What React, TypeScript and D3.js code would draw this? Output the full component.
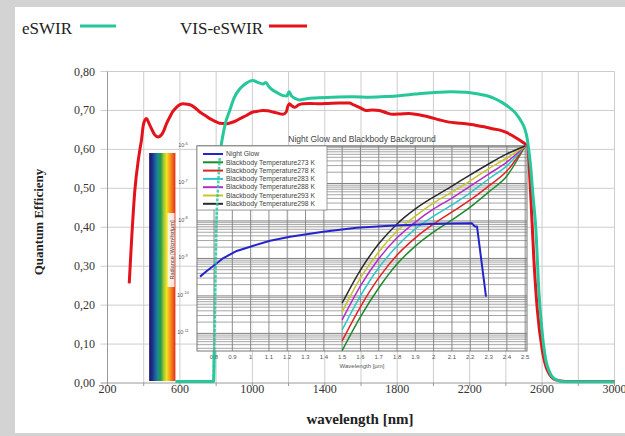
import React from "react";
import * as d3 from "d3";

// ---------- Main chart data (wavelength nm, quantum efficiency) ----------
const visESWIR: [number, number][] = [
  [320, 0.256], [333, 0.367], [351, 0.495], [370, 0.572], [379, 0.6], [388, 0.625], [397, 0.66], [407, 0.676],
  [416, 0.679], [428, 0.668], [443, 0.653], [460, 0.638], [480, 0.632], [495, 0.636], [507, 0.644], [525, 0.665],
  [544, 0.683], [562, 0.698], [581, 0.708], [600, 0.715], [618, 0.717], [640, 0.716], [664, 0.713], [688, 0.705],
  [710, 0.696], [740, 0.687], [765, 0.679], [795, 0.672], [820, 0.667], [857, 0.666], [885, 0.669], [912, 0.674],
  [940, 0.681], [967, 0.687], [1003, 0.696], [1030, 0.698], [1058, 0.7], [1085, 0.699], [1113, 0.696], [1140, 0.693],
  [1169, 0.69], [1187, 0.696], [1197, 0.712], [1205, 0.717], [1218, 0.712], [1233, 0.708], [1255, 0.714], [1279, 0.717],
  [1320, 0.718], [1371, 0.717], [1420, 0.718], [1480, 0.719], [1536, 0.719], [1560, 0.714], [1591, 0.708], [1628, 0.7],
  [1665, 0.701], [1701, 0.7], [1740, 0.694], [1775, 0.69], [1820, 0.691], [1866, 0.692], [1900, 0.69], [1938, 0.687],
  [1985, 0.682], [2031, 0.676], [2087, 0.67], [2130, 0.668], [2179, 0.666], [2220, 0.663], [2252, 0.66], [2290, 0.657],
  [2326, 0.653], [2362, 0.65], [2399, 0.644], [2430, 0.637], [2455, 0.63], [2491, 0.619], [2510, 0.612], [2524, 0.585],
  [2537, 0.486], [2555, 0.315], [2574, 0.187], [2601, 0.085], [2629, 0.033], [2675, 0.008], [2730, 0.004], [3000, 0.004],
];

const eSWIR: [number, number][] = [
  [575, 0.004], [786, 0.004], [790, 0.1], [795, 0.25], [801, 0.4], [810, 0.5], [820, 0.58], [835, 0.63], [850, 0.665],
  [875, 0.7], [900, 0.733], [930, 0.755], [960, 0.768], [990, 0.776], [1003, 0.777], [1030, 0.772], [1058, 0.768],
  [1075, 0.772], [1090, 0.762], [1110, 0.753], [1132, 0.747], [1170, 0.738], [1190, 0.737], [1203, 0.748], [1215, 0.738],
  [1240, 0.73], [1260, 0.727], [1300, 0.73], [1350, 0.732], [1444, 0.734], [1550, 0.735], [1650, 0.734], [1750, 0.736],
  [1811, 0.738], [1900, 0.742], [1970, 0.745], [2031, 0.747], [2100, 0.748], [2179, 0.747], [2250, 0.742], [2300, 0.737],
  [2340, 0.73], [2380, 0.72], [2418, 0.708], [2450, 0.695], [2482, 0.674], [2505, 0.652], [2519, 0.625], [2530, 0.585],
  [2537, 0.555], [2550, 0.48], [2565, 0.4], [2583, 0.23], [2601, 0.128], [2620, 0.06], [2640, 0.03], [2656, 0.016],
  [2690, 0.006], [2730, 0.003], [3000, 0.003],
];

const xTickLabels = [200, 600, 1000, 1400, 1800, 2200, 2600, 3000];
const xGrid = [200, 400, 600, 800, 1000, 1200, 1400, 1600, 1800, 2000, 2200, 2400, 2600, 2800, 3000];
const yTicks = [0, 0.1, 0.2, 0.3, 0.4, 0.5, 0.6, 0.7, 0.8];
const spectrumRange = [430, 575]; // nm span of the rainbow bar
const spectrumColors = ["#1b1660", "#1d2a8c", "#1b5fa0", "#1a8c8a", "#2a9a48", "#9cc83a", "#f2e41c", "#f7a21d", "#f06a1c", "#e52a1c"];

// ---------- Inset data (wavelength µm, log10 radiance) ----------
const nightGlow: [number, number][] = [
  [0.7235, -9.485], [0.762, -9.33], [0.805, -9.17], [0.851, -8.99], [0.924, -8.8], [1.015, -8.66], [1.106, -8.53],
  [1.215, -8.42], [1.397, -8.29], [1.58, -8.18], [1.762, -8.13], [1.98, -8.08], [2.208, -8.06], [2.226, -8.15],
  [2.237, -8.15], [2.286, -10.02],
];
const bbWavelengths = [1.5, 1.6, 1.7, 1.8, 1.9, 2.0, 2.1, 2.2, 2.3, 2.4, 2.5];
const bb273 = [-11.46, -10.56, -9.79, -9.15, -8.67, -8.29, -7.97, -7.63, -7.23, -6.8, -6.0];
const bb278 = [-11.2, -10.29, -9.52, -8.91, -8.45, -8.08, -7.76, -7.44, -7.07, -6.67, -6.0];
const bb283 = [-10.91, -10.0, -9.25, -8.67, -8.21, -7.87, -7.57, -7.25, -6.88, -6.53, -6.0];
const bb288 = [-10.64, -9.73, -9.01, -8.45, -8.03, -7.68, -7.39, -7.07, -6.75, -6.43, -6.0];
const bb293 = [-10.43, -9.52, -8.83, -8.27, -7.87, -7.52, -7.23, -6.93, -6.61, -6.32, -6.0];
const bb298 = [-10.19, -9.31, -8.61, -8.08, -7.68, -7.36, -7.07, -6.77, -6.48, -6.21, -6.0];
const insetSeriesNames = [
  "Night Glow",
  "Blackbody Temperature273 K",
  "Blackbody Temperature278 K",
  "Blackbody Temperature283 K",
  "Blackbody Temperature288 K",
  "Blackbody Temperature293 K",
  "Blackbody Temperature298 K",
];
const insetColors = ["#2424cc", "#1e8a2c", "#e02222", "#2cc6c8", "#b42cc6", "#c8c42a", "#2a2a2a"];
const insetXTicks = [0.8, 0.9, 1, 1.1, 1.2, 1.3, 1.4, 1.5, 1.6, 1.7, 1.8, 1.9, 2, 2.1, 2.2, 2.3, 2.4, 2.5];
const insetDecades = [-6, -7, -8, -9, -10, -11];

const SERIF = "'Liberation Serif', 'Times New Roman', serif";
const SANS = "'Liberation Sans', Arial, sans-serif";

export default function App() {
  const W = 625, H = 436;
  const x = d3.scaleLinear().domain([200, 3000]).range([107.5, 614.5]);
  const y = d3.scaleLinear().domain([0, 0.8]).range([383, 71.5]);

  const mainLine = d3
    .line<[number, number]>()
    .x((d) => x(d[0]))
    .y((d) => y(d[1]))
    .curve(d3.curveMonotoneX);

  // inset scales
  const ix = d3.scaleLinear().domain([0.707, 2.51]).range([197, 527]);
  const iy = d3.scaleLog().domain([Math.pow(10, -11.47), 1e-6]).range([351, 146]);
  const insetLine = d3
    .line<[number, number]>()
    .x((d) => ix(d[0]))
    .y((d) => iy(Math.pow(10, d[1])));
  const bbLine = d3
    .line<[number, number]>()
    .x((d) => ix(d[0]))
    .y((d) => iy(Math.pow(10, d[1])))
    .curve(d3.curveMonotoneX);
  const bbSeries = [bb273, bb278, bb283, bb288, bb293, bb298];

  const minorVals: number[] = [];
  for (let dec = -12; dec <= -7; dec++) {
    for (let m = 2; m <= 9; m++) {
      const v = m * Math.pow(10, dec);
      if (v > iy.domain()[0] && v < iy.domain()[1]) minorVals.push(v);
    }
  }

  const [iL, iR] = ix.range();
  const [iB, iT] = iy.range();

  return (
    <svg width={W} height={H} style={{ display: "block", position: "absolute", left: 0, top: 0 }}>
      <defs>
        <linearGradient id="spec" x1="0" x2="1" y1="0" y2="0">
          {spectrumColors.map((c, i) => (
            <stop key={i} offset={i / (spectrumColors.length - 1)} stopColor={c} />
          ))}
        </linearGradient>
      </defs>
      <rect x={0} y={0} width={W} height={H} fill="#d3d3d3" />
      <rect x={15} y={7} width={W - 15} height={426} fill="#ffffff" />

      {/* legend */}
      <text x={22} y={34} fontFamily={SERIF} fontSize={17} fill="#222">eSWIR</text>
      <line x1={80} x2={116} y1={26} y2={26} stroke="#26c79b" strokeWidth={3} />
      <text x={180} y={34} fontFamily={SERIF} fontSize={17} fill="#222">VIS-eSWIR</text>
      <line x1={269} x2={307} y1={26} y2={26} stroke="#e3121b" strokeWidth={3} />

      {/* main grid */}
      {xGrid.map((v) => (
        <line key={"gx" + v} x1={x(v)} x2={x(v)} y1={y(0.8)} y2={y(0)} stroke="#cdcdcd" strokeWidth={1} />
      ))}
      {yTicks.map((v) => (
        <line key={"gy" + v} x1={x(200) - 7} x2={x(3000)} y1={y(v)} y2={y(v)} stroke={v === 0 ? "#999" : "#cdcdcd"} strokeWidth={1} />
      ))}
      <line x1={x(200)} x2={x(200)} y1={y(0.8)} y2={y(0)} stroke="#999" />
      {xGrid.map((v) => (
        <line key={"tx" + v} x1={x(v)} x2={x(v)} y1={y(0)} y2={y(0) + 3} stroke="#999" />
      ))}
      {yTicks.map((v) => (
        <text key={"ty" + v} x={95} y={y(v) + 4} textAnchor="end" fontFamily={SERIF} fontSize={12} fill="#333">
          {v.toFixed(2).replace(".", ",")}
        </text>
      ))}
      {xTickLabels.map((v) => (
        <text key={"tl" + v} x={x(v)} y={393} textAnchor="middle" fontFamily={SERIF} fontSize={12} fill="#333">
          {v}
        </text>
      ))}
      <text x={360} y={424} textAnchor="middle" fontFamily={SERIF} fontSize={15} fontWeight="bold" fill="#222">
        wavelength [nm]
      </text>
      <text
        transform={`translate(43,222) rotate(-90)`}
        textAnchor="middle"
        fontFamily={SERIF}
        fontSize={13}
        fontWeight="bold"
        fill="#222"
      >
        Quantum Efficieny
      </text>

      {/* spectrum bar */}
      <rect x={x(spectrumRange[0])} y={153} width={x(spectrumRange[1]) - x(spectrumRange[0])} height={y(0) - 153 - 2} fill="url(#spec)" />

      {/* main curves */}
      <path d={mainLine(visESWIR) || ""} fill="none" stroke="#e3121b" strokeWidth={3} strokeLinejoin="round" />
      <path d={mainLine(eSWIR) || ""} fill="none" stroke="#26c79b" strokeWidth={3} strokeLinejoin="round" />

      {/* ---------- inset ---------- */}
      <rect x={iL} y={iT} width={iR - iL} height={iB - iT} fill="#ffffff" opacity={0.72} />
      {minorVals.map((v, i) => (
        <line key={"mn" + i} x1={iL} x2={iR} y1={iy(v)} y2={iy(v)} stroke="#a6a6a6" strokeWidth={1} />
      ))}
      {insetDecades.map((d) => (
        <line key={"dc" + d} x1={iL} x2={iR} y1={iy(Math.pow(10, d))} y2={iy(Math.pow(10, d))} stroke="#808080" strokeWidth={1} />
      ))}
      {insetXTicks.map((v) => (
        <line key={"ivx" + v} x1={ix(v)} x2={ix(v)} y1={iT} y2={iB} stroke="#808080" strokeWidth={0.9} />
      ))}
      <rect x={iL} y={iT} width={iR - iL} height={iB - iT} fill="none" stroke="#777" strokeWidth={1} />
      {insetXTicks.map((v) => (
        <text key={"ixl" + v} x={ix(v)} y={359} textAnchor="middle" fontFamily={SANS} fontSize={6} fill="#555">
          {String(v)}
        </text>
      ))}
      <text x={362} y={368} textAnchor="middle" fontFamily={SANS} fontSize={6} fill="#555">Wavelength [µm]</text>
      <text x={362} y={142} textAnchor="middle" fontFamily={SANS} fontSize={8.5} fill="#444">
        Night Glow and Blackbody Background
      </text>
      {insetDecades.map((d) => (
        <text key={"idl" + d} x={183} y={iy(Math.pow(10, d)) + 1} textAnchor="middle" fontFamily={SANS} fontSize={5.5} fill="#555">
          10<tspan dy={-2.5} fontSize={4}>{String(d)}</tspan>
        </text>
      ))}
      <g transform="translate(172,250) rotate(-90)">
        <rect x={-37} y={-4.5} width={74} height={7} fill="#ffffff" opacity={0.85} />
        <text x={0} y={1.5} textAnchor="middle" fontFamily={SANS} fontSize={5.5} fill="#444">
          Radiance [W/cm²/sr/µm]
        </text>
      </g>

      {/* inset curves */}
      {bbSeries.map((s, k) => (
        <path
          key={"bb" + k}
          d={bbLine(bbWavelengths.map((w, i) => [w, s[i]] as [number, number])) || ""}
          fill="none"
          stroke={insetColors[k + 1]}
          strokeWidth={1.5}
        />
      ))}
      <path d={insetLine(nightGlow) || ""} fill="none" stroke={insetColors[0]} strokeWidth={2} strokeLinejoin="round" />

      {/* inset legend */}
      <rect x={iL} y={iT} width={130} height={64} fill="#ffffff" stroke="#888" strokeWidth={0.8} />
      {insetSeriesNames.map((n, i) => (
        <g key={"lg" + i}>
          <line x1={203} x2={223} y1={154 + i * 8.3} y2={154 + i * 8.3} stroke={insetColors[i]} strokeWidth={2} />
          <text x={226} y={156.2 + i * 8.3} fontFamily={SANS} fontSize={6.8} fill="#444">{n}</text>
        </g>
      ))}

      {/* green passing over the inset (faint) */}
      <path
        d={mainLine(eSWIR.filter((d) => d[0] >= 786 && d[0] <= 830)) || ""}
        fill="none"
        stroke="#26c79b"
        strokeWidth={2.5}
        strokeDasharray="3 1.5"
        opacity={0.8}
      />
    </svg>
  );
}
